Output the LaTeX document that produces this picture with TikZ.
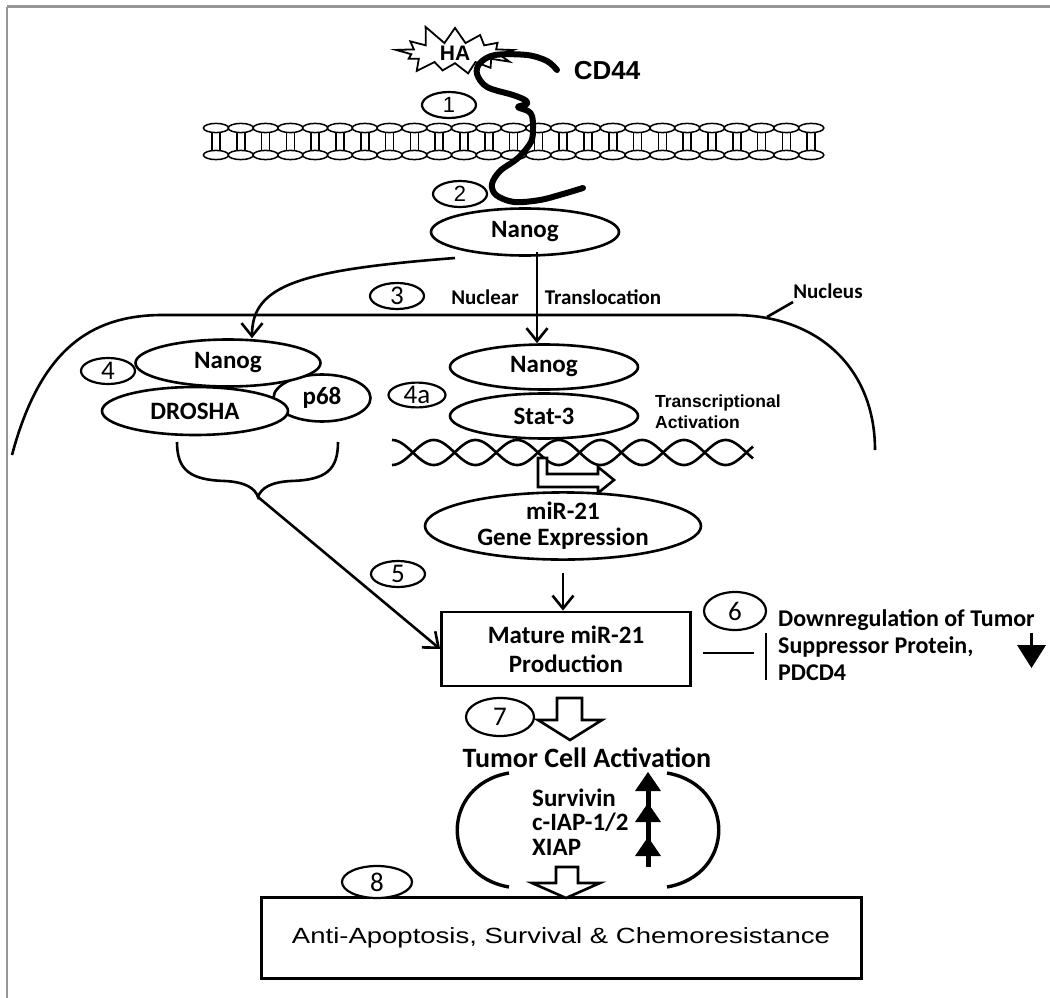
\documentclass[tikz,border=0pt]{standalone}
\usepackage{fontspec}
\setmainfont{Carlito}
\newfontfamily\arf{Liberation Sans}
\newfontfamily\arwide[FakeStretch=1.25]{Liberation Sans}
\usetikzlibrary{shapes.geometric,shapes.symbols,arrows.meta}
\definecolor{framegray}{RGB}{150,150,150}
\begin{document}
\begin{tikzpicture}[x=1pt,y=-1pt,
  oval/.style={ellipse, draw, line width=2.6pt, fill=white, inner sep=0pt, align=center, font=\bfseries\fontsize{25}{26}\selectfont},
  num/.style={ellipse, draw, line width=2.2pt, fill=white, inner sep=0pt, minimum width=54pt, minimum height=26pt, font=\fontsize{27}{28}\selectfont},
  numa/.style={num, font=\arf\fontsize{22}{24}\selectfont},
  arr/.style={line width=2.6pt, -{Straight Barb[length=13pt,width=21pt,line width=2.6pt]}},
  hollow/.style={draw, line width=2.6pt, fill=white, line join=miter},
  lbl/.style={font=\bfseries\fontsize{21}{24}\selectfont, inner sep=0pt},
  txt/.style={font=\bfseries\fontsize{25}{25}\selectfont, inner sep=0pt, anchor=west},
  thickline/.style={line width=2.6pt},
]
\useasboundingbox (0,0) rectangle (1050,998);
% frame
\draw[framegray, line width=3pt] (7,7) -- (1050,7);
\draw[framegray, line width=1.2pt] (7,7) -- (7,998);

% membrane
\foreach \i in {0,...,24} {
  \pgfmathsetmacro\cx{216+24.8*\i}
  \draw[line width=1.5pt] (\cx-4,131) -- (\cx-4,152) (\cx+4,131) -- (\cx+4,152);
}
\foreach \i in {0,...,24} {
  \pgfmathsetmacro\cx{216+24.8*\i}
  \draw[line width=1.5pt, fill=white] (\cx,128) ellipse [x radius=12.6pt, y radius=4.6pt];
  \draw[line width=1.5pt, fill=white] (\cx,155) ellipse [x radius=12.6pt, y radius=4.6pt];
}

% HA and CD44
\node[starburst, draw, line width=1.8pt, fill=white, starburst points=13, starburst point height=20pt,
      minimum width=128pt, minimum height=56pt, random starburst=11, inner sep=0pt,
      font=\arf\bfseries\fontsize{21}{22}\selectfont] (ha) at (455,53) {HA};
\draw[line width=6pt, line cap=round, line join=round] plot[smooth, tension=0.55] coordinates {
  (557,70) (547,61) (527,55) (495,55) (480,63) (477,74) (487,87) (513,95) (525,100)
  (527,104) (518,107) (528,111) (532,116) (533,128) (531,142) (518,158) (500,171)
  (492,184) (496,195) (514,202) (540,200) (563,194) (583,188)};
\node[font=\arf\bfseries\fontsize{26}{28}\selectfont, inner sep=0pt] (cd44) at (607,71) {CD44};

\node[numa] (n1) at (449,105) {1};
\node[numa] (n2) at (460,194) {2};
\node[oval, minimum width=188pt, minimum height=47pt] (nanogT) at (525,232) {Nanog};

% nucleus
\draw[thickline] (12,455) .. controls (40,350) and (90,316) .. (160,315) -- (733,315)
      .. controls (820,315) and (875,370) .. (875,450);
\node[lbl] (nuc) at (828,291) {Nucleus};
\coordinate (nucp) at (767,317);
\draw[thickline] (nucp) -- (793,302);

\node[num] (n3) at (397,296) {3};
\node[lbl] (nuclear) at (485,297) {Nuclear};
\node[lbl] (transl) at (603,297) {Translocation};

% left complex
\node[num] (n4) at (108,371) {4};
\node[oval, minimum width=97pt, minimum height=47pt] (p68) at (322,398) {p68};
\node[oval, minimum width=185pt, minimum height=47pt] (nanogL) at (228,363) {Nanog};
\node[oval, minimum width=186pt, minimum height=48pt] (drosha) at (195,411) {DROSHA};

% right complex
\node[num, minimum width=57pt, minimum height=24pt] (n4a) at (417,395) {4a};
\node[oval, minimum width=188pt, minimum height=45pt] (nanogR) at (544,367) {Nanog};
\node[oval, minimum width=188pt, minimum height=45pt] (stat) at (544,416) {Stat-3};
\node[font=\arf\bfseries\fontsize{17.5}{21}\selectfont, align=left, anchor=west, inner sep=0pt] (ta) at (655,412) {Transcriptional\\Activation};

% arrows into nucleus
\coordinate (c1) at (455,258);
\draw[arr] (c1) .. controls (300,270) and (252,285) .. ([xshift=24pt]nanogL.north);
\coordinate (c2) at (537,252);
\draw[arr] (c2) -- (c2 |- nanogR.north);

% DNA helix
\draw[thickline] plot[domain=392:753, samples=240, smooth] (\x, {452.5-12.5*cos(4.3165*(\x-392))});
\draw[thickline] plot[domain=392:753, samples=240, smooth] (\x, {452.5+12.5*cos(4.3165*(\x-392))});

% bent transcription arrow
\draw[hollow] (538,458) -- (538,487) -- (598,487) -- (598,493) -- (614,480) -- (598,467) -- (598,474) -- (547,474) -- (547,458) -- cycle;

% brace
\draw[thickline] (177,442) .. controls (177,470) and (190,480) .. (225,481)
   .. controls (245,482) and (255,488) .. (258,497)
   .. controls (261,488) and (271,482) .. (291,481)
   .. controls (326,480) and (338,470) .. (338,442);
\coordinate (bt) at (258,497);

% miR-21
\node[oval, minimum width=276pt, minimum height=58pt] (mir) at (563,526) {miR-21\\Gene Expression};
\node[draw, line width=2.8pt, minimum width=249pt, minimum height=74pt, align=center, inner sep=0pt,
      font=\bfseries\fontsize{25}{29}\selectfont] (mature) at (566,649) {Mature miR-21\\Production};
\draw[arr, shorten <=12pt] (mir.south) -- (mir.south |- mature.north);
\draw[arr] (bt) -- (mature.west);
\node[num] (n5) at (398,574) {5};

% inhibition
\node[num, minimum width=62pt, minimum height=38pt] (n6) at (735,611) {6};
\draw[thickline] ([shift={(11,4)}]mature.east) -- ([shift={(62,4)}]mature.east);
\draw[thickline] ([shift={(74,-16)}]mature.east) -- ([shift={(74,31)}]mature.east);
\node[anchor=north west, align=left, inner sep=0pt, font=\bfseries\fontsize{24}{27}\selectfont] (down) at (778,609)
  {Downregulation of Tumor\\Suppressor Protein,\\PDCD4};
\draw[thickline] (1031.5,633) -- (1031.5,646);
\fill (1017,645) -- (1046,645) -- (1031.5,668) -- cycle;

% step 7
\node[num, minimum width=68pt, minimum height=38pt] (n7) at (500,717) {7};
\draw[hollow] (557,698) -- (582,698) -- (582,720) -- (602,720) -- (570,740) -- (538,720) -- (557,720) -- cycle;
\node[font=\bfseries\fontsize{28}{30}\selectfont, inner sep=0pt] (tca) at (587,758) {Tumor Cell Activation};

% brackets
\draw[line width=3.4pt] (509,773) .. controls (440,785) and (440,875) .. (509,887);
\draw[line width=3.4pt] (667,773) .. controls (736,785) and (736,875) .. (667,887);
\node[txt] (surv) at (532,798) {Survivin};
\node[txt] (ciap) at (532,822) {c-IAP-1/2};
\node[txt] (xiap) at (532,847) {XIAP};
\draw[line width=5pt] (648,867) -- (648,785);
\fill (648,772) -- (661,791) -- (635,791) -- cycle;
\fill (648,803) -- (661,822) -- (635,822) -- cycle;
\fill (648,837) -- (661,856) -- (635,856) -- cycle;

% bottom
\node[draw, line width=3pt, minimum width=600pt, minimum height=81pt, inner sep=0pt,
      font=\arwide\fontsize{22}{24}\selectfont] (anti) at (561,937.5) {Anti-Apoptosis, Survival \& Chemoresistance};
\draw[hollow] (556,867) -- (578,867) -- (578,883) -- (600,883) -- (566,898) -- (532,883) -- (556,883) -- cycle;
\node[num, minimum width=70pt, minimum height=32pt] (n8) at (377,882) {8};
\end{tikzpicture}
\end{document}
